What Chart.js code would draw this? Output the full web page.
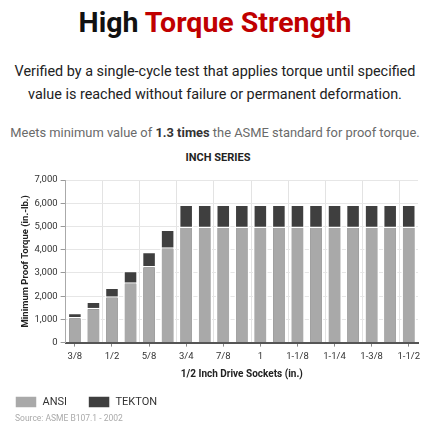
<!DOCTYPE html>
<html>
<head>
<meta charset="utf-8">
<script src="https://cdn.jsdelivr.net/npm/chart.js@4/dist/chart.umd.min.js"></script>
<style>
  html, body { margin: 0; padding: 0; background: #fff; }
  body { width: 430px; height: 430px; position: relative; overflow: hidden; font-family: Roboto, "Noto Sans", sans-serif; }
  .t { position: absolute; left: 0; width: 430px; text-align: center; white-space: nowrap; }
  #title { top: 6px; font-size: 28.5px; font-weight: 700; color: #111; }
  #title span { color: #c00000; }
  #sub { top: 60px; font-size: 14.4px; line-height: 23px; color: #222; }
  #note { top: 125px; font-size: 12.9px; color: #6a6a6a; }
  #note b { color: #333; font-weight: 700; }
  #series { top: 151px; font-size: 11px; font-weight: 700; color: #222; left: 3px; }
  #wrap { position: absolute; left: 0; top: 166px; width: 430px; height: 252px; }
  #src { position: absolute; left: 15px; top: 413px; font-size: 8.5px; color: #aaa; }
</style>
</head>
<body>
<div class="t" id="title">High <span>Torque Strength</span></div>
<div class="t" id="sub">Verified by a single-cycle test that applies torque until specified<br>value is reached without failure or permanent deformation.</div>
<div class="t" id="note">Meets minimum value of <b>1.3 times</b> the ASME standard for proof torque.</div>
<div class="t" id="series">INCH SERIES</div>
<div id="wrap"><canvas id="c" width="430" height="252"></canvas></div>
<div id="src">Source: ASME B107.1 - 2002</div>
<script>
// Socket sizes (1/2 inch drive)
const sizes = ['3/8','7/16','1/2','9/16','5/8','11/16','3/4','13/16','7/8','15/16','1',
               '1-1/16','1-1/8','1-3/16','1-1/4','1-5/16','1-3/8','1-7/16','1-1/2'];
// Minimum proof torque (in.-lb.)
const ansi   = [1100,1500,2000,2600,3300,4100,5000,5000,5000,5000,5000,5000,5000,5000,5000,5000,5000,5000,5000];
const tekton = [1290,1770,2370,3090,3910,4870,5950,5950,5950,5950,5950,5950,5950,5950,5950,5950,5950,5950,5950];
const yTicks = [0,1000,2000,3000,4000,5000,6000,7000];

const FONT = 'Roboto';
const evenOnly = (c) => (ctx) => (ctx.index % 2 === 0 ? c : 'rgba(0,0,0,0)');

new Chart(document.getElementById('c'), {
  type: 'bar',
  data: {
    labels: sizes,
    datasets: [
      { label: 'ANSI', data: ansi, backgroundColor: '#a9a9a9', borderColor: '#ffffff', borderWidth: 1.5,
        categoryPercentage: 0.8, barPercentage: 0.98 },
      { label: 'TEKTON', data: tekton, backgroundColor: '#3f3f3f', borderColor: '#ffffff', borderWidth: 1.5,
        categoryPercentage: 0.8, barPercentage: 0.98 }
    ]
  },
  options: {
    responsive: false,
    animation: false,
    devicePixelRatio: 1,
    layout: { padding: { left: -6, right: 12, top: 14, bottom: 0 } },
    plugins: {
      tooltip: { enabled: false },
      legend: {
        position: 'bottom', align: 'start',
        labels: { boxWidth: 22, boxHeight: 12, padding: 21, color: '#333', font: { family: FONT, size: 11 } }
      }
    },
    scales: {
      x: {
        stacked: true,
        offset: true,
        grid: { offset: false, drawOnChartArea: false, tickLength: 4, tickColor: evenOnly('#888') },
        border: { color: '#555', width: 2 },
        ticks: {
          autoSkip: false, maxRotation: 0, padding: 4, color: '#333', font: { family: FONT, size: 9.5 },
          callback: (v, i) => (i % 2 === 0 ? sizes[i] : '')
        },
        title: { display: true, text: '1/2 Inch Drive Sockets (in.)', color: '#222',
                 font: { family: FONT, size: 10, weight: 'bold' }, padding: { top: 2, bottom: -5 } }
      },
      xg: {
        type: 'category', position: 'top', labels: sizes, offset: true,
        grid: { offset: true, drawTicks: false, color: evenOnly('#e3e3e3') },
        border: { display: false },
        ticks: { display: false }
      },
      y: {
        stacked: false,
        min: 0, max: 7000,
        afterBuildTicks: (s) => { s.ticks = yTicks.map(v => ({ value: v })); },
        grid: { color: '#e6e6e6', tickLength: 5, tickColor: '#999' },
        border: { color: '#aaa', width: 1 },
        ticks: { color: '#333', padding: 3, font: { family: FONT, size: 9.5 },
                 callback: (v) => Number(v).toLocaleString('en-US') },
        title: { display: true, text: 'Minimum Proof Torque (in.-lb.)', color: '#222',
                 font: { family: FONT, size: 9.5, weight: 'bold' }, padding: { top: 26, bottom: 0 } }
      }
    }
  }
});
</script>
</body>
</html>
